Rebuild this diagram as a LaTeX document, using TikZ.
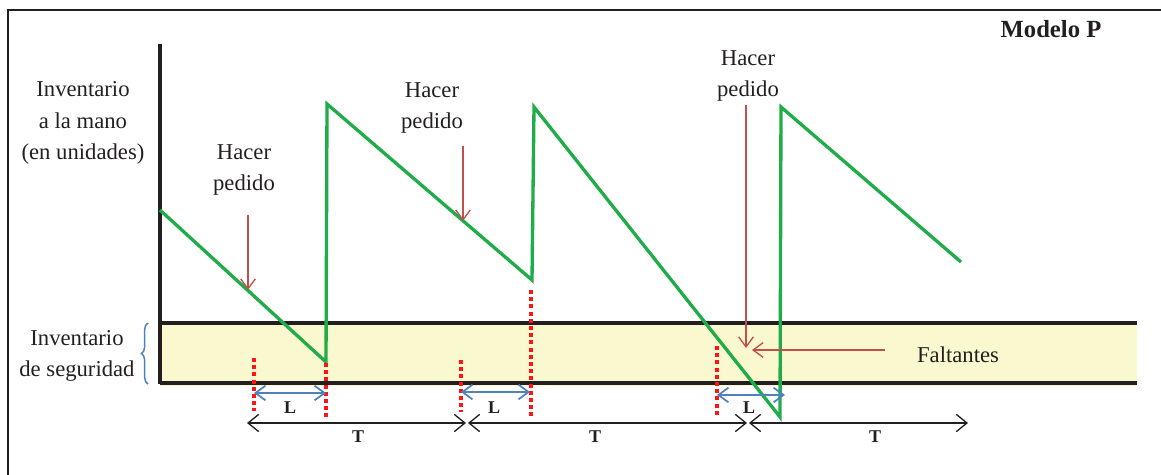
\documentclass[tikz,border=0pt]{standalone}
\usepackage{fontspec}
\setmainfont{Liberation Serif}
\usetikzlibrary{arrows.meta,decorations.pathreplacing}
\definecolor{ink}{RGB}{35,31,32}
\definecolor{sawgreen}{RGB}{32,172,72}
\definecolor{ordred}{RGB}{192,80,77}
\definecolor{lblue}{RGB}{79,129,189}
\definecolor{dotred}{RGB}{255,20,20}
\definecolor{bandfill}{RGB}{250,248,206}
\tikzset{
  lab/.style={font=\fontsize{17}{23.5}\selectfont, text=ink, align=center, inner sep=0pt},
  blab/.style={font=\bfseries\fontsize{13.5}{15}\selectfont, text=ink, inner sep=0pt},
  saw/.style={draw=sawgreen, line width=2.5pt, line join=miter},
  ordarrow/.style={draw=ordred, line width=1pt, -{Straight Barb[length=7.5pt,width=11pt,line width=1pt]}},
  larrow/.style={draw=lblue, line width=1.3pt, {Straight Barb[length=7.5pt,width=11pt,line width=1.3pt]}-{Straight Barb[length=7.5pt,width=11pt,line width=1.3pt]}},
  tarrow/.style={draw=ink, line width=1pt, {Straight Barb[length=8pt,width=13pt,line width=1pt]}-{Straight Barb[length=8pt,width=13pt,line width=1pt]}},
  reddots/.style={draw=dotred, line width=2.8pt, dash pattern=on 3pt off 2.4pt},
  bandline/.style={draw=ink, line width=2.8pt},
}
\begin{document}
\begin{tikzpicture}[x=0.75pt,y=-0.75pt]
\useasboundingbox (0,0) rectangle (1161,475);
% frame
\draw[ink, line width=1.8pt] (8,475) -- (8,10) -- (1161,10);
% safety stock band
\fill[bandfill] (160,323) rectangle (1137,386);
\draw[bandline] (160,323) -- (1137,323);
\draw[bandline] (160,383) -- (1137,383);
% axis
\draw[ink, line width=2.5pt] (160,44) -- (160,384);
% brace
\draw[lblue, line width=1.1pt, decorate, decoration={brace, amplitude=5pt}] (148,384) -- (148,323);
% labels
\node[lab] (ylab) at (83,123) {Inventario\\a la mano\\(en unidades)};
\node[lab] (sslab) at (77,356) {Inventario\\de seguridad};
\node[lab] (hp1) at (244,170) {Hacer\\pedido};
\node[lab] (hp2) at (432,108) {Hacer\\pedido};
\node[lab] (hp3) at (748,76) {Hacer\\pedido};
\node[lab] (falt) at (958,355) {Faltantes};
\node[font=\bfseries\fontsize{18.5}{21}\selectfont, text=ink, inner sep=0pt] (modelo) at (1051,29) {Modelo P};
% sawtooth
\coordinate (g0) at (160,210);
\coordinate (g1) at (326,362);
\coordinate (g2) at (327,104);
\coordinate (g3) at (532,280);
\coordinate (g4) at (534,107);
\coordinate (g5) at (780,417);
\coordinate (g6) at (781,107);
\coordinate (g7) at (961,262);
\draw[saw] (g0) -- (g1) -- (g2) -- (g3) -- (g4) -- (g5) -- (g6) -- (g7);
% red dotted verticals
\coordinate (d1a) at (254,358); \coordinate (d1b) at (254,411);
\coordinate (d2a) at (326,363); \coordinate (d2b) at (326,417);
\coordinate (d3a) at (461,360); \coordinate (d3b) at (461,412);
\coordinate (d4a) at (531,290); \coordinate (d4b) at (531,416);
\coordinate (d5a) at (717,346); \coordinate (d5b) at (717,415);
\foreach \i in {1,...,5} {\draw[reddots] (d\i a) -- (d\i b);}
% order arrows
\coordinate (r1a) at (248,215); \coordinate (r1b) at (248,290);
\coordinate (r2a) at (463,146); \coordinate (r2b) at (463,221);
\coordinate (r3a) at (746,105); \coordinate (r3b) at (746,348);
\coordinate (fa) at (885,350); \coordinate (fb) at (752,350);
\draw[ordarrow] (r1a) -- (r1b);
\draw[ordarrow] (r2a) -- (r2b);
\draw[ordarrow] (r3a) -- (r3b);
\draw[ordarrow] (fa) -- (fb);
% L arrows
\coordinate (l1a) at (254,393); \coordinate (l1b) at (326,393);
\coordinate (l2a) at (461,392); \coordinate (l2b) at (530,392);
\coordinate (l3a) at (717,395); \coordinate (l3b) at (785,395);
\draw[larrow] (l1a) -- (l1b);
\draw[larrow] (l2a) -- (l2b);
\draw[larrow] (l3a) -- (l3b);
\node[blab] (L1) at (290,408) {L};
\node[blab] (L2) at (494,408) {L};
\node[blab] (L3) at (749,408) {L};
% T arrows
\coordinate (t0) at (247,423); \coordinate (t1) at (466,423);
\coordinate (t1b) at (468,423); \coordinate (t2) at (747,423);
\coordinate (t2b) at (749,423); \coordinate (t3) at (968,423);
\draw[tarrow] (t0) -- (t1);
\draw[tarrow] (t1b) -- (t2);
\draw[tarrow] (t2b) -- (t3);
\node[blab] (T1) at (358,437) {T};
\node[blab] (T2) at (595,437) {T};
\node[blab] (T3) at (875,437) {T};
\end{tikzpicture}
\end{document}
